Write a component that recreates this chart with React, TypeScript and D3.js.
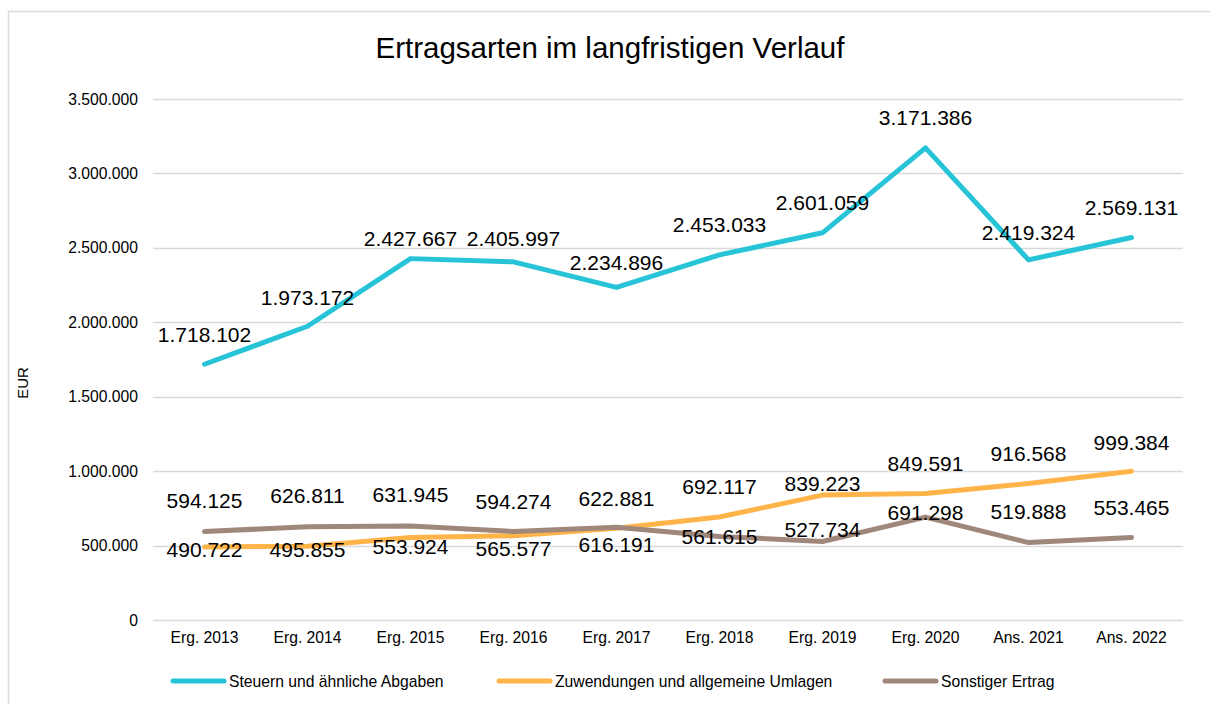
import * as d3 from "d3";

const categories = [
  "Erg. 2013", "Erg. 2014", "Erg. 2015", "Erg. 2016", "Erg. 2017",
  "Erg. 2018", "Erg. 2019", "Erg. 2020", "Ans. 2021", "Ans. 2022",
];

const steuern = [1718102, 1973172, 2427667, 2405997, 2234896, 2453033, 2601059, 3171386, 2419324, 2569131];
const zuwendungen = [490722, 495855, 553924, 565577, 616191, 692117, 839223, 849591, 916568, 999384];
const sonstiger = [594125, 626811, 631945, 594274, 622881, 561615, 527734, 691298, 519888, 553465];

const yTicks = [0, 500000, 1000000, 1500000, 2000000, 2500000, 3000000, 3500000];

// label placement (px from the point, as laid out in the original)
const steuernDy = [-30, -29, -20, -23, -25, -30, -30, -30, -27, -30];
const zuwendungenDy = [3, 3, 9, 13, 16, -30, -12, -30, -30, -29];
const sonstigerDy = [-31, -31, -31, -30, -29, 0, -12, -5, -31, -30];

const series = [
  { name: "Steuern und ähnliche Abgaben", values: steuern, dy: steuernDy, color: "#27C4D8" },
  { name: "Zuwendungen und allgemeine Umlagen", values: zuwendungen, dy: zuwendungenDy, color: "#FFB44A" },
  { name: "Sonstiger Ertrag", values: sonstiger, dy: sonstigerDy, color: "#A0877B" },
];

const legendX = [171, 497, 883];

const fmt = (v: number) => d3.format(",")(v).replace(/,/g, ".");
const FONT = "'Liberation Sans', Arial, sans-serif";

export default function App() {
  const W = 1210;
  const H = 704;
  const x = d3.scaleBand().domain(categories).range([153, 1183]);
  const y = d3.scaleLinear().domain([0, 3500000]).range([620, 99]);
  const cx = (c: string) => (x(c) ?? 0) + x.bandwidth() / 2;
  const line = d3
    .line<number>()
    .x((_, i) => cx(categories[i]))
    .y((v) => y(v));

  return (
    <svg
      width={W}
      height={H}
      style={{ display: "block", position: "fixed", left: 0, top: 0, fontFamily: FONT }}
    >
      <rect x={0} y={0} width={W} height={H} fill="#fff" />
      <rect x={8.5} y={11.5} width={1300} height={800} fill="#fff" stroke="#d9d9d9" strokeWidth={1.5} />
      <text x={610} y={47} textAnchor="middle" dominantBaseline="central" fontSize={29.5} fill="#000">
        Ertragsarten im langfristigen Verlauf
      </text>

      {yTicks.map((t) => (
        <g key={t}>
          <line x1={153} x2={1183} y1={Math.round(y(t)) + 0.5} y2={Math.round(y(t)) + 0.5} stroke="#d9d9d9" strokeWidth={1.3} />
          <text x={138} y={y(t)} textAnchor="end" dominantBaseline="central" fontSize={15.7} fill="#000">
            {fmt(t)}
          </text>
        </g>
      ))}

      <text
        transform="translate(22,383) rotate(-90)"
        textAnchor="middle"
        dominantBaseline="central"
        fontSize={15}
        fill="#000"
      >
        EUR
      </text>

      {categories.map((c) => (
        <text key={c} x={cx(c)} y={637} textAnchor="middle" dominantBaseline="central" fontSize={15.7} fill="#000">
          {c}
        </text>
      ))}

      {series.map((s) => (
        <path
          key={s.name}
          d={line(s.values) ?? ""}
          fill="none"
          stroke={s.color}
          strokeWidth={5}
          strokeLinejoin="round"
          strokeLinecap="round"
        />
      ))}

      {series.map((s) =>
        s.values.map((v, i) => (
          <text
            key={s.name + i}
            x={cx(categories[i])}
            y={y(v) + s.dy[i]}
            textAnchor="middle"
            dominantBaseline="central"
            fontSize={21}
            fill="#000"
          >
            {fmt(v)}
          </text>
        ))
      )}

      {series.map((s, i) => (
        <g key={s.name} transform={`translate(${legendX[i]},681)`}>
          <line x1={2} x2={53} y1={0} y2={0} stroke={s.color} strokeWidth={5} strokeLinecap="round" />
          <text x={58} y={0} dominantBaseline="central" fontSize={15.7} fill="#000">
            {s.name}
          </text>
        </g>
      ))}
    </svg>
  );
}
